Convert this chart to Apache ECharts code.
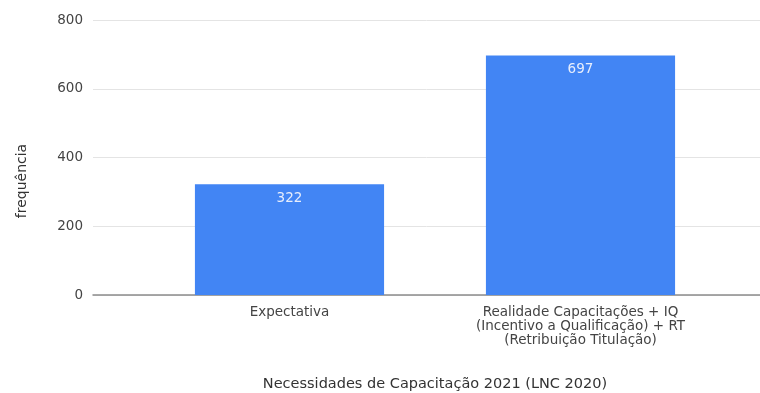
<!DOCTYPE html>
<html>
<head>
<meta charset="utf-8">
<script src="https://cdn.jsdelivr.net/npm/echarts@6/dist/echarts.min.js"></script>
<style>
  html, body { margin: 0; padding: 0; background: #ffffff; }
  #chart { width: 760px; height: 393px; }
</style>
</head>
<body>
<div id="chart"></div>
<script>
// ---- data ----
const categories = [
  'Expectativa',
  'Realidade Capacitações + IQ\n(Incentivo a Qualificação) + RT\n(Retribuição Titulação)'
];
const values = [322, 697];
const yTicks = [0, 200, 400, 600, 800];
const xAxisTitle = 'Necessidades de Capacitação 2021 (LNC 2020)';
const yAxisTitle = 'frequência';

// ---- chart ----
const chart = echarts.init(document.getElementById('chart'), null, { renderer: 'canvas' });
const FONT = 'DejaVu Sans';
const option = {
  backgroundColor: '#ffffff',
  animation: false,
  textStyle: { fontFamily: FONT },
  grid: [
    { left: 93, right: 0, top: 20, bottom: 98, containLabel: false, outerBoundsMode: 'none' },
    { left: 144, right: 34, top: 20, bottom: 98, containLabel: false, outerBoundsMode: 'none' }
  ],
  xAxis: [
    {
      gridIndex: 0, type: 'value', min: 0, max: 1,
      axisLine: { show: true, lineStyle: { color: '#8c8c8c', width: 1.5 } },
      axisTick: { show: false }, axisLabel: { show: false }, splitLine: { show: false }
    },
    {
      gridIndex: 1, type: 'category', data: categories,
      axisLine: { show: false }, axisTick: { show: false },
      axisLabel: {
        interval: 0, margin: 10, color: '#444', fontSize: 13.5,
        lineHeight: 14, fontFamily: FONT, align: 'center'
      },
      name: xAxisTitle, nameLocation: 'middle', nameGap: 82,
      nameTextStyle: { color: '#333', fontSize: 14.5, fontFamily: FONT }
    }
  ],
  yAxis: [
    {
      gridIndex: 0, type: 'value', min: yTicks[0], max: yTicks[yTicks.length - 1],
      interval: yTicks[1] - yTicks[0],
      axisLine: { show: false }, axisTick: { show: false },
      axisLabel: { color: '#444', fontSize: 13.5, margin: 10, fontFamily: FONT },
      splitLine: { show: true, lineStyle: { color: '#e4e4e4', width: 1 } }
    },
    {
      gridIndex: 1, type: 'value', min: yTicks[0], max: yTicks[yTicks.length - 1],
      show: false, splitLine: { show: false }
    }
  ],
  graphic: [
    {
      type: 'text', x: 22, y: 181, rotation: Math.PI / 2,
      style: {
        text: yAxisTitle, fill: '#333', font: '14px "DejaVu Sans"',
        align: 'center', verticalAlign: 'middle'
      }
    }
  ],
  series: [
    {
      type: 'bar', xAxisIndex: 1, yAxisIndex: 1,
      data: values, barCategoryGap: '35%',
      itemStyle: { color: '#4285f4' },
      label: {
        show: true, position: 'insideTop', distance: 7,
        color: '#e8eefc', fontSize: 13.5, fontFamily: FONT
      }
    }
  ]
};
chart.setOption(option);
</script>
</body>
</html>
